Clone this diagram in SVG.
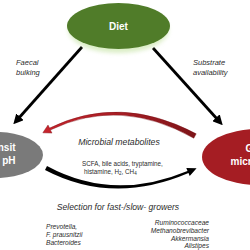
<svg xmlns="http://www.w3.org/2000/svg" width="250" height="250" viewBox="0 0 250 250">
<defs>
<style>
.lbl{font-family:"Liberation Sans",Arial,sans-serif;font-style:italic;fill:#2b2b2b}
.node{font-family:"Liberation Sans",Arial,sans-serif;font-weight:bold;fill:#ffffff;font-size:10px}
.arrow{stroke:#000;stroke-width:2.8;fill:none;marker-end:url(#ah)}
</style>
<marker id="ah" viewBox="0 0 10 10" refX="3" refY="5" markerWidth="3.6" markerHeight="3.6" orient="auto" markerUnits="strokeWidth">
<path d="M0,0 L10,5 L0,10 Z" fill="#000"/>
</marker>
<linearGradient id="redg" x1="0" y1="0" x2="1" y2="0">
<stop offset="0" stop-color="#c8242c"/>
<stop offset="0.5" stop-color="#a71d24"/>
<stop offset="1" stop-color="#7d1418"/>
</linearGradient>
<filter id="blur" x="-20%" y="-20%" width="140%" height="140%"><feGaussianBlur stdDeviation="2"/></filter>
</defs>
<rect width="250" height="250" fill="#ffffff"/>

<g id="connectors">
<path class="arrow" d="M82,47 L18,119"/>
<path class="arrow" d="M153,48 L218,120"/>
<path id="metabolites-arc" d="M196.2,133.8 Q120,93.5 49.6,128.1 L48,125 L42.8,132.8 L52,133.1 L50.4,129.9 Q120,96.5 193.8,138.2 Z" fill="url(#redg)" stroke="#7a1216" stroke-width="0.4"/>
<path id="selection-arc" d="M47,166.1 Q113,202 187.5,170.9 L186.3,167.9 L196.6,168.3 L189.7,176.1 L188.5,173.1 Q113,205.5 45,169.9 Z" fill="#000"/>
</g>

<g id="diet">
<ellipse cx="118.5" cy="30" rx="50" ry="23" fill="#b6dc8c" opacity="0.5" filter="url(#blur)"/>
<ellipse cx="118.5" cy="26" rx="51.5" ry="23" fill="#507c29"/>
<text class="node" x="118.5" y="29.5" text-anchor="middle" font-size="10.5">Diet</text>
</g>

<g id="transit">
<ellipse cx="-4" cy="155" rx="47" ry="23" fill="#7a7a7a"/>
<text class="node" x="15.5" y="150.5" text-anchor="end">Transit</text>
<text class="node" x="15.5" y="164" text-anchor="end">time, pH</text>
</g>

<g id="microbiota">
<ellipse cx="258" cy="157" rx="56" ry="28" fill="#a51d23"/>
<text class="node" x="245.5" y="151.5">Gut</text>
<text class="node" x="230.5" y="165">microbiota</text>
</g>

<g id="labels">
<text class="lbl" x="16" y="64.5" font-size="7.5">Faecal</text>
<text class="lbl" x="16" y="74.5" font-size="7.5">bulking</text>
<text class="lbl" x="193" y="64.5" font-size="7.5">Substrate</text>
<text class="lbl" x="193" y="74.5" font-size="7.5">availability</text>
<text class="lbl" x="119" y="145" font-size="8.7" text-anchor="middle">Microbial metabolites</text>
<text x="82" y="165.5" font-family="'Liberation Sans',Arial,sans-serif" font-size="6.3" fill="#2b2b2b">SCFA, bile acids, tryptamine,</text>
<text x="84" y="173.5" font-family="'Liberation Sans',Arial,sans-serif" font-size="6.3" fill="#2b2b2b">histamine, H<tspan font-size="4.5" dy="1.5">2</tspan><tspan dy="-1.5">, CH</tspan><tspan font-size="4.5" dy="1.5">4</tspan></text>
<text class="lbl" x="118" y="210" font-size="8.6" text-anchor="middle">Selection for fast-/slow- growers</text>
<text class="lbl" x="46" y="229" font-size="6.6">Prevotella,</text>
<text class="lbl" x="46" y="237" font-size="6.6">F. prausnitzii</text>
<text class="lbl" x="46" y="245" font-size="6.6">Bacteroides</text>
<text class="lbl" x="209" y="225" font-size="6.6" text-anchor="end">Ruminococcaceae</text>
<text class="lbl" x="209" y="233" font-size="6.6" text-anchor="end">Methanobrevibacter</text>
<text class="lbl" x="209" y="240.5" font-size="6.6" text-anchor="end">Akkermansia</text>
<text class="lbl" x="209" y="248.3" font-size="6.6" text-anchor="end">Alistipes</text>
</g>
</svg>
